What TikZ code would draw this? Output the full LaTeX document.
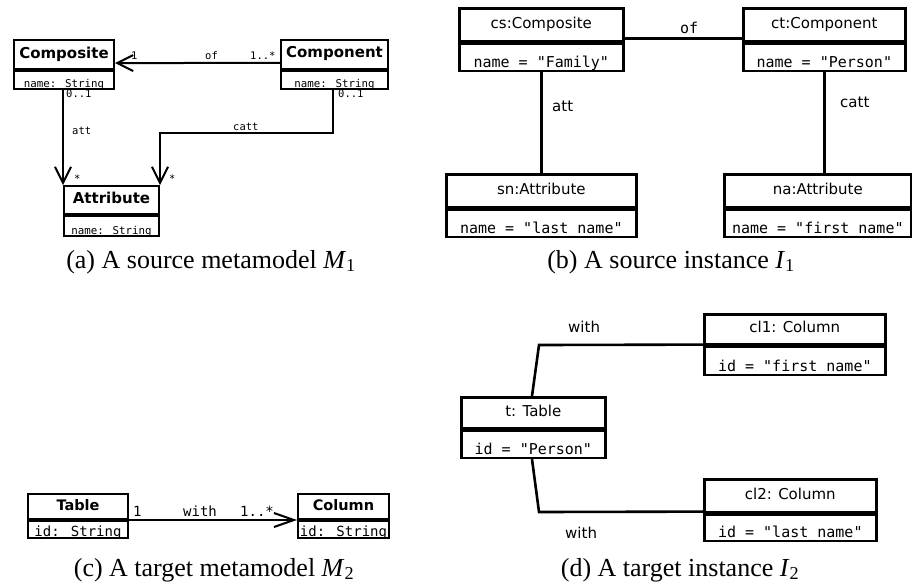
\documentclass[tikz,border=0pt]{standalone}
\usepackage{fontspec}
\setmainfont{Liberation Serif}
\newfontfamily\dvs{DejaVu Sans}
\newfontfamily\dvsm{DejaVu Sans Mono}
\usetikzlibrary{arrows.meta}
\newcommand\fsz[1]{\fontsize{#1}{#1}\selectfont}
\begin{document}
\begin{tikzpicture}[x=1pt,y=-1pt,
  hA/.style={draw, line width=2pt, inner sep=0pt, anchor=north west, text height=0.72em, text depth=0pt, font=\dvs\bfseries\fsz{15}},
  bA/.style={draw, line width=2pt, inner sep=0pt, anchor=north west, font=\dvsm\fsz{10.8}},
  hB/.style={draw, line width=2.6pt, inner sep=0pt, anchor=north west, text height=0.72em, text depth=0pt, font=\dvs\fsz{15}},
  bB/.style={draw, line width=2.6pt, inner sep=0pt, anchor=north west, font=\dvsm\fsz{15}},
  hC/.style={hA, font=\dvs\bfseries\fsz{14.5}},
  bC/.style={bA, font=\dvsm\fsz{14}},
  conA/.style={line width=2pt},
  conB/.style={line width=2.6pt},
  barbA/.style={-{Straight Barb[length=16pt,width=16pt]}},
  lblA/.style={anchor=base west, inner sep=0pt, font=\dvsm\fsz{10.5}},
  lblB/.style={anchor=base west, inner sep=0pt, font=\dvs\fsz{15}},
  lblBm/.style={anchor=base west, inner sep=0pt, font=\dvsm\fsz{15}},
  lblC/.style={anchor=base west, inner sep=0pt, font=\dvsm\fsz{14}},
  capt/.style={anchor=base, inner sep=0pt, font=\fsz{26}}
]
\useasboundingbox (0,0) rectangle (912,587);

% ---------- (a) source metamodel ----------
\node[hA, minimum width=100pt, minimum height=29pt] (compH) at (13,39) {Composite};
\node[bA, minimum width=100pt, text height=16.5pt, text depth=1.5pt] (compB) at (compH.south west) {name: String};
\node[hA, minimum width=107pt, minimum height=28.5pt] (cmpH) at (280,39) {Component};
\node[bA, minimum width=107pt, text height=17pt, text depth=1.5pt] (cmpB) at (cmpH.south west) {name: String};
\node[hA, minimum width=95pt, minimum height=28pt] (attH) at (63,185) {Attribute};
\node[bA, minimum width=95pt, text height=18.5pt, text depth=1.5pt] (attB) at (attH.south west) {name: String};

\draw[conA, barbA] ([yshift=-8.6pt]cmpH.west) -- ([yshift=-8.6pt]compH.east);
\draw[conA, barbA] (attH.north west |- compB.south) -- (attH.north west);
\coordinate (cattc) at (333,133);
\draw[conA, barbA] (cattc |- cmpB.south) -- (cattc) -| (attH.north east);

\node[lblA] (l1) at (131,59) {1};
\node[lblA] (lof) at (205,59) {of};
\node[lblA] (l1s) at (250,59) {1..*};
\node[lblA] (l01a) at (66,97.5) {0..1};
\node[lblA] (latt) at (72,134) {att};
\node[lblA] (lst1) at (74,182) {*};
\node[lblA] (lcatt) at (233,130) {catt};
\node[lblA] (l01b) at (338,97.5) {0..1};
\node[lblA] (lst2) at (169,182) {*};

\node[capt] (capa) at (211,268) {(a) A source metamodel \textit{M}\textsubscript{1}};

% ---------- (b) source instance ----------
\node[hB, minimum width=164pt, minimum height=33pt] (csH) at (458,7) {cs:Composite};
\node[bB, minimum width=164pt, text height=23.5pt, text depth=3.5pt] (csB) at (csH.south west) {name = "Family"};
\node[hB, minimum width=162pt, minimum height=33pt] (ctH) at (742,7) {ct:Component};
\node[bB, minimum width=162pt, text height=23.5pt, text depth=3.5pt] (ctB) at (ctH.south west) {name = "Person"};
\node[hB, minimum width=190pt, minimum height=33pt] (snH) at (445,173) {sn:Attribute};
\node[bB, minimum width=190pt, text height=24pt, text depth=3pt] (snB) at (snH.south west) {name = "last\_name"};
\node[hB, minimum width=187pt, minimum height=33pt] (naH) at (723,173) {na:Attribute};
\node[bB, minimum width=187pt, text height=24pt, text depth=3pt] (naB) at (naH.south west) {name = "first\_name"};

\draw[conB] ([yshift=-13.5pt]csH.east) -- ([yshift=-13.5pt]ctH.west);
\draw[conB] (csB.south) -- (csB.south |- snH.north);
\draw[conB] (ctB.south) -- (ctB.south |- naH.north);

\node[lblBm] (bof) at (680,33) {of};
\node[lblB] (batt) at (552,111) {att};
\node[lblB] (bcatt) at (840,107) {catt};

\node[capt] (capb) at (671,268) {(b) A source instance \textit{I}\textsubscript{1}};

% ---------- (c) target metamodel ----------
\node[hC, minimum width=100pt, minimum height=25pt] (tblH) at (27,493) {Table};
\node[bC, minimum width=100pt, text height=15pt, text depth=2pt] (tblB) at (tblH.south west) {id: String};
\node[hC, minimum width=91pt, minimum height=25pt] (colH) at (297,493) {Column};
\node[bC, minimum width=91pt, text height=15pt, text depth=2pt] (colB) at (colH.south west) {id: String};

\draw[conA, -{Straight Barb[length=20pt,width=14pt]}] (tblB.north east) -- (colB.north west);

\node[lblC] (c1) at (133,516) {1};
\node[lblC] (cwith) at (183,516) {with};
\node[lblC] (c1s) at (240,516) {1..*};

\node[capt] (capc) at (214,576) {(c) A target metamodel \textit{M}\textsubscript{2}};

% ---------- (d) target instance ----------
\node[hB, minimum width=181pt, minimum height=30pt] (cl1H) at (703,313) {cl1: Column};
\node[bB, minimum width=181pt, text height=25pt, text depth=3pt] (cl1B) at (cl1H.south west) {id = "first\_name"};
\node[hB, minimum width=144pt, minimum height=31pt] (tH) at (460,396) {t: Table};
\node[bB, minimum width=144pt, text height=23.5pt, text depth=3.5pt] (tB) at (tH.south west) {id = "Person"};
\node[hB, minimum width=172pt, minimum height=33pt] (cl2H) at (703,478) {cl2: Column};
\node[bB, minimum width=172pt, text height=22.5pt, text depth=3.5pt] (cl2B) at (cl2H.south west) {id = "last\_name"};

\coordinate (w0) at (532,0);
\coordinate (w1) at (539,345);
\coordinate (w2) at (539,512);
\draw[conB] (tH.north -| w0) -- (w1) -- ([yshift=1pt]cl1H.south west);
\draw[conB] (tB.south -| w0) -- (w2) -- ([yshift=2pt]cl2H.south west);

\node[lblB] (dw1) at (568,332) {with};
\node[lblB] (dw2) at (565,538) {with};

\node[capt] (capd) at (680,576) {(d) A target instance \textit{I}\textsubscript{2}};
\end{tikzpicture}
\end{document}
